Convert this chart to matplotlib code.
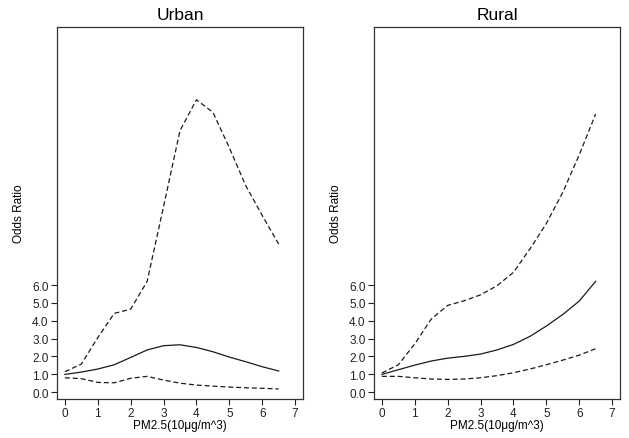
import numpy as np
import matplotlib.pyplot as plt

plt.rcParams['font.family'] = ['Liberation Sans', 'DejaVu Sans']

# PM2.5 取值（10μg/m^3）
pm = [0, 0.5, 1, 1.5, 2, 2.5, 3, 3.5, 4, 4.5, 5, 5.5, 6, 6.5]

# 城市：OR 及 95% 置信区间
urban_or = [0.99, 1.12, 1.29, 1.53, 1.94, 2.36, 2.60, 2.65, 2.50, 2.26, 1.96, 1.70, 1.42, 1.18]
urban_lo = [0.80, 0.75, 0.54, 0.52, 0.77, 0.88, 0.67, 0.50, 0.39, 0.33, 0.28, 0.24, 0.21, 0.17]
urban_hi = [1.14, 1.57, 3.05, 4.41, 4.65, 6.20, 10.40, 14.66, 16.39, 15.69, 13.70, 11.57, 9.90, 8.30]

# 农村：OR 及 95% 置信区间
rural_or = [0.99, 1.25, 1.51, 1.74, 1.90, 2.00, 2.13, 2.36, 2.67, 3.12, 3.70, 4.35, 5.10, 6.21]
rural_lo = [0.88, 0.88, 0.80, 0.73, 0.71, 0.73, 0.80, 0.92, 1.08, 1.29, 1.53, 1.79, 2.07, 2.43]
rural_hi = [1.07, 1.53, 2.70, 4.09, 4.86, 5.12, 5.45, 5.96, 6.71, 8.02, 9.45, 11.20, 13.30, 15.59]

yticks = [0, 1, 2, 3, 4, 5, 6]
xticks = [0, 1, 2, 3, 4, 5, 6, 7]

fig = plt.figure(figsize=(6.29, 4.39), dpi=100)
ax1 = fig.add_axes([57 / 629, 39 / 439, 246 / 629, 372 / 439])
ax2 = fig.add_axes([374 / 629, 39 / 439, 246 / 629, 372 / 439])

col = '#1a1a1a'
for ax, title, y, lo, hi in [(ax1, 'Urban', urban_or, urban_lo, urban_hi),
                             (ax2, 'Rural', rural_or, rural_lo, rural_hi)]:
    ax.plot(pm, y, color=col, lw=0.9)
    ax.plot(pm, lo, color=col, lw=0.9, dashes=(4, 2.3))
    ax.plot(pm, hi, color=col, lw=0.9, dashes=(4, 2.3))
    ax.set_xlim(-0.24, 7.24)
    ax.set_ylim(-0.39, 20.47)
    ax.set_xticks(xticks)
    ax.set_yticks(yticks)
    ax.set_yticklabels(['%.1f' % v for v in yticks])
    ax.tick_params(direction='out', length=4, width=0.8, labelsize=8.5, colors='#222222', pad=2)
    for s in ax.spines.values():
        s.set_linewidth(0.9)
        s.set_color('#333333')
    ax.set_title(title, fontsize=12.5, pad=6)
    ax.set_xlabel('PM2.5(10μg/m^3)', fontsize=8.5, labelpad=0)
    ax.set_ylabel('Odds Ratio', fontsize=8.5, labelpad=5)

fig.savefig('out.png', dpi=100)
